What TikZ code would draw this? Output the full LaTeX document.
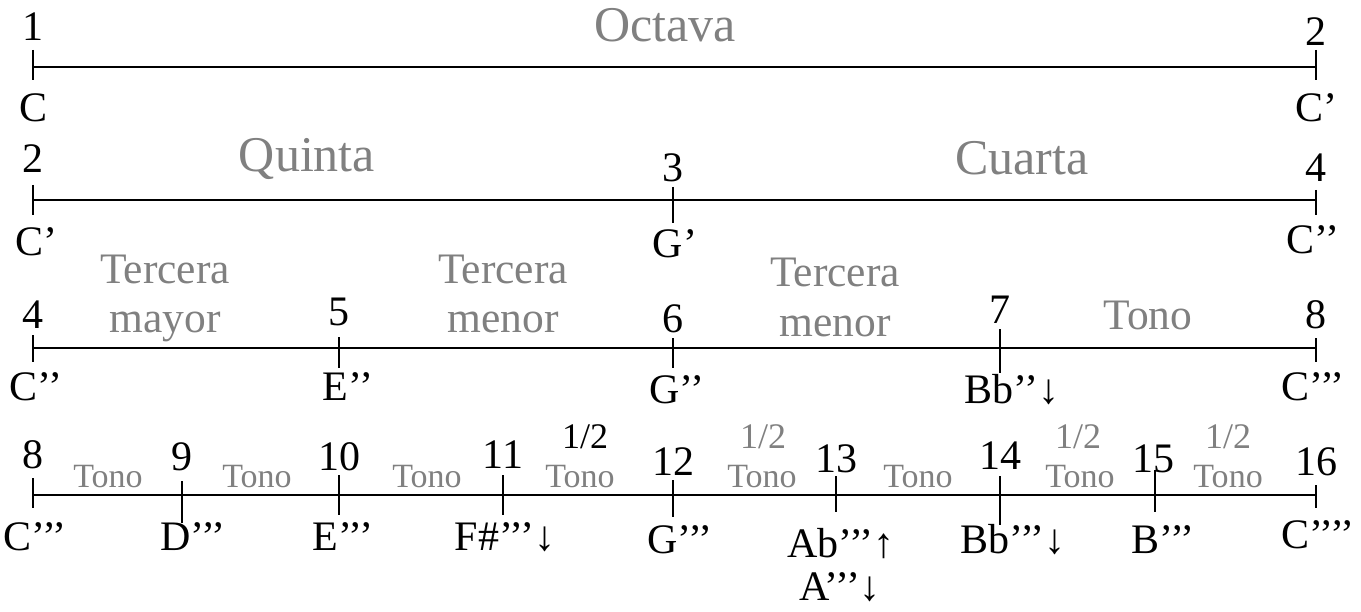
\documentclass[tikz,border=0pt]{standalone}
\usepackage{fontspec}
\setmainfont{Liberation Serif}
\usetikzlibrary{positioning}
\definecolor{intgray}{RGB}{128,128,128}
\newcommand{\pr}{’\kern-.08em}
\newcommand{\tk}[3]{\draw[bar] ([yshift=#2bp]#1) -- ([yshift=-#3bp]#1);}

\begin{document}
\begin{tikzpicture}[
x=1bp, y=-1bp,
num/.style={anchor=base, inner sep=0pt, font=\fontsize{42bp}{46bp}\selectfont},
note/.style={num},
bigint/.style={anchor=base, inner sep=0pt, text=intgray, font=\fontsize{50bp}{54bp}\selectfont},
midint/.style={bigint, font=\fontsize{43.5bp}{48bp}\selectfont},
smallint/.style={bigint, font=\fontsize{34bp}{38bp}\selectfont},
half/.style={bigint, font=\fontsize{36bp}{40bp}\selectfont},
bar/.style={line width=2.8bp}
]
\useasboundingbox (0,0) rectangle (1361,612);

% Octava
\coordinate (a1) at (33,67);
\coordinate (a2) at (1316,67);
\draw[bar] (a1) -- (a2);
\tk{a1}{17}{13} \tk{a2}{17}{13}
\node[num] (na1) at (33,41) {1};
\node[num] (na2) at (1316,46) {2};
\node[note] (ca1) at (34,122) {C};
\node[note] (ca2) at (1316,122) {C’};
\node[bigint] (octava) at (665,42) {Octava};

% Quinta + Cuarta
\coordinate (b1) at (33,200);
\coordinate (b2) at (673,200);
\coordinate (b3) at (1316,200);
\draw[bar] (b1) -- (b3);
\tk{b1}{15}{15} \tk{b2}{13}{23} \tk{b3}{10}{15}
\node[num] (nb1) at (33,173) {2};
\node[num] (nb2) at (673,182) {3};
\node[num] (nb3) at (1316,182) {4};
\node[note] (cb1) at (36,255) {C’};
\node[note] (cb2) at (675,257) {G’};
\node[note] (cb3) at (1313,253) {C\pr’};
\node[bigint] (quinta) at (307,172) {Quinta};
\node[bigint] (cuarta) at (1022,175) {Cuarta};

% Terceras
\coordinate (c1) at (33,348);
\coordinate (c2) at (339,348);
\coordinate (c3) at (673,348);
\coordinate (c4) at (1000,348);
\coordinate (c5) at (1316,348);
\draw[bar] (c1) -- (c5);
\tk{c1}{13}{14} \tk{c2}{11}{20} \tk{c3}{10}{20} \tk{c4}{19}{25} \tk{c5}{10}{14}
\node[num] (nc1) at (33,328) {4};
\node[num] (nc2) at (339,325) {5};
\node[num] (nc3) at (673,332) {6};
\node[num] (nc4) at (1000,323) {7};
\node[num] (nc5) at (1316,328) {8};
\node[note] (cc1) at (36,400) {C\pr’};
\node[note] (cc2) at (348,400) {E\pr’};
\node[note] (cc3) at (677,403) {G\pr’};
\node[note] (cc4) at (1012,403) {Bb\pr’↓};
\node[note] (cc5) at (1313,400) {C\pr\pr’};
\node[midint] (ter1) at (165,283) {Tercera};
\node[midint] (may1) at (165,332) {mayor};
\node[midint] (ter2) at (503,283) {Tercera};
\node[midint] (men2) at (503,332) {menor};
\node[midint] (ter3) at (835,286) {Tercera};
\node[midint] (men3) at (835,336) {menor};
\node[midint] (tono3) at (1148,329) {Tono};

% Tonos y semitonos
\coordinate (d1) at (33,495);
\coordinate (d2) at (182,495);
\coordinate (d3) at (339,495);
\coordinate (d4) at (503,495);
\coordinate (d5) at (673,495);
\coordinate (d6) at (836,495);
\coordinate (d7) at (1000,495);
\coordinate (d8) at (1155,495);
\coordinate (d9) at (1316,495);
\draw[bar] (d1) -- (d9);
\tk{d1}{17}{13} \tk{d2}{14}{28} \tk{d3}{20}{20} \tk{d4}{20}{20} \tk{d5}{15}{22}
\tk{d6}{19}{17} \tk{d7}{19}{30} \tk{d8}{25}{17} \tk{d9}{10}{13}
\node[num] (nd1) at (33,468) {8};
\node[num] (nd2) at (182,470) {9};
\node[num] (nd3) at (339,470) {10};
\node[num] (nd4) at (503,468) {11};
\node[num] (nd5) at (673,475) {12};
\node[num] (nd6) at (836,472) {13};
\node[num] (nd7) at (1000,469) {14};
\node[num] (nd8) at (1153,472) {15};
\node[num] (nd9) at (1316,475) {16};
\node[note] (cd1) at (35,550) {C\pr\pr’};
\node[note] (cd2) at (193,550) {D\pr\pr’};
\node[note] (cd3) at (343,550) {E\pr\pr’};
\node[note] (cd4) at (505,550) {F\#\pr\pr’↓};
\node[note] (cd5) at (680,553) {G\pr\pr’};
\node[note] (cd6) at (841,557) {Ab\pr\pr’↑};
\node[note] (cd6b) at (840,600) {A\pr\pr’↓};
\node[note] (cd7) at (1013,553) {Bb\pr\pr’↓};
\node[note] (cd8) at (1163,553) {B\pr\pr’};
\node[note] (cd9) at (1318,548) {C\pr\pr\pr’};
\node[smallint] (tono41) at (108,487) {Tono};
\node[smallint] (tono42) at (257,487) {Tono};
\node[smallint] (tono43) at (427,487) {Tono};
\node[smallint] (tono44) at (580,487) {Tono};
\node[smallint] (tono45) at (762,487) {Tono};
\node[smallint] (tono46) at (918,487) {Tono};
\node[smallint] (tono47) at (1080,487) {Tono};
\node[smallint] (tono48) at (1228,487) {Tono};
\node[half, text=black] (half4) at (585,448) {1/2};
\node[half] (half5) at (763,448) {1/2};
\node[half] (half7) at (1078,448) {1/2};
\node[half] (half8) at (1228,448) {1/2};

\end{tikzpicture}
\end{document}
